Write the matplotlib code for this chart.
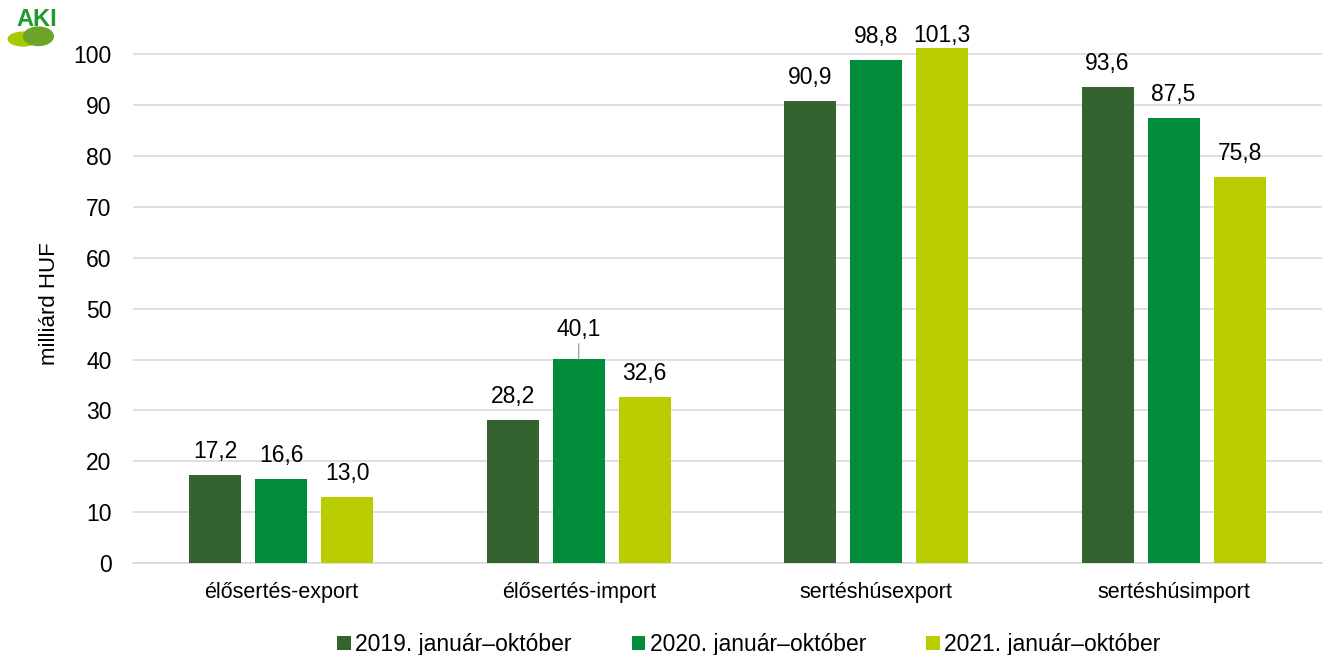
import numpy as np
import matplotlib.pyplot as plt
from matplotlib.patches import Ellipse

plt.rcParams['font.family'] = ['Liberation Sans', 'DejaVu Sans']

categories = ["élősertés-export", "élősertés-import", "sertéshúsexport", "sertéshúsimport"]
series_names = ["2019. január–október", "2020. január–október", "2021. január–október"]
v2019 = [17.2, 28.2, 90.9, 93.6]
v2020 = [16.6, 40.1, 98.8, 87.5]
v2021 = [13.0, 32.6, 101.3, 75.8]
colors = ["#356330", "#008c3a", "#b9cd00"]

fig = plt.figure(figsize=(13.25, 6.55), dpi=100)
ax = fig.add_axes([0.1, 0.1405, 0.898, 0.792])

px_per_unit = 5.09   # vertical pixels per data unit
label_gap = 17       # px between bar top and label baseline
top_limit = 102.4    # labels cannot go above the plot area

x = np.arange(len(categories))
offsets = [-0.222, 0, 0.222]
for vals, off, col, name in zip([v2019, v2020, v2021], offsets, colors, series_names):
    ax.bar(x + off, vals, width=0.175, color=col, label=name, zorder=3)
    for xi, v in zip(x + off, vals):
        lab = f"{v:.1f}".replace(".", ",")
        if v == 40.1:
            ax.annotate(lab, xy=(xi, v), xytext=(0, 23 * 0.72), textcoords="offset points",
                        ha="center", va="baseline", fontsize=16.5,
                        arrowprops=dict(arrowstyle="-", color="#a6a6a6", lw=1,
                                        relpos=(0.5, 0), shrinkA=0, shrinkB=0))
        else:
            gap = min(label_gap, (top_limit - v) * px_per_unit)
            ax.annotate(lab, xy=(xi, v), xytext=(0, gap * 0.72), textcoords="offset points",
                        ha="center", va="baseline", fontsize=16.5)

ax.set_xlim(-0.5, 3.5)
ax.set_ylim(0, 102)
ax.set_yticks(range(0, 101, 10))
ax.set_xticks(x)
ax.set_xticklabels(categories, fontsize=15.5)
ax.tick_params(axis="y", labelsize=16.5, length=0, pad=15)
ax.tick_params(axis="x", length=0, pad=14)
ax.yaxis.grid(True, color="#d9d9d9", lw=1.2, zorder=0)
for s in ["top", "right", "left"]:
    ax.spines[s].set_visible(False)
ax.spines["bottom"].set_color("#d9d9d9")
ax.spines["bottom"].set_linewidth(1.2)
ax.set_ylabel("milliárd HUF", fontsize=16, labelpad=10)

ax.legend(loc="upper center", bbox_to_anchor=(0.518, -0.095), ncol=3, frameon=False,
          fontsize=16.5, handlelength=0.6, handleheight=0.6, handletextpad=0.2,
          columnspacing=2.6)

# logo
lax = fig.add_axes([0.0, 0.925, 0.05, 0.07])
lax.set_xlim(0, 1)
lax.set_ylim(0, 1)
lax.axis("off")
lax.add_patch(Ellipse((0.35, 0.22), 0.45, 0.3, color="#a8c800"))
lax.add_patch(Ellipse((0.58, 0.28), 0.45, 0.4, color="#6aa52a"))
lax.text(0.55, 0.65, "AKI", color="#1e9a2e", fontsize=17, fontweight="bold",
         ha="center", va="center")

fig.savefig("out.png", dpi=100)
